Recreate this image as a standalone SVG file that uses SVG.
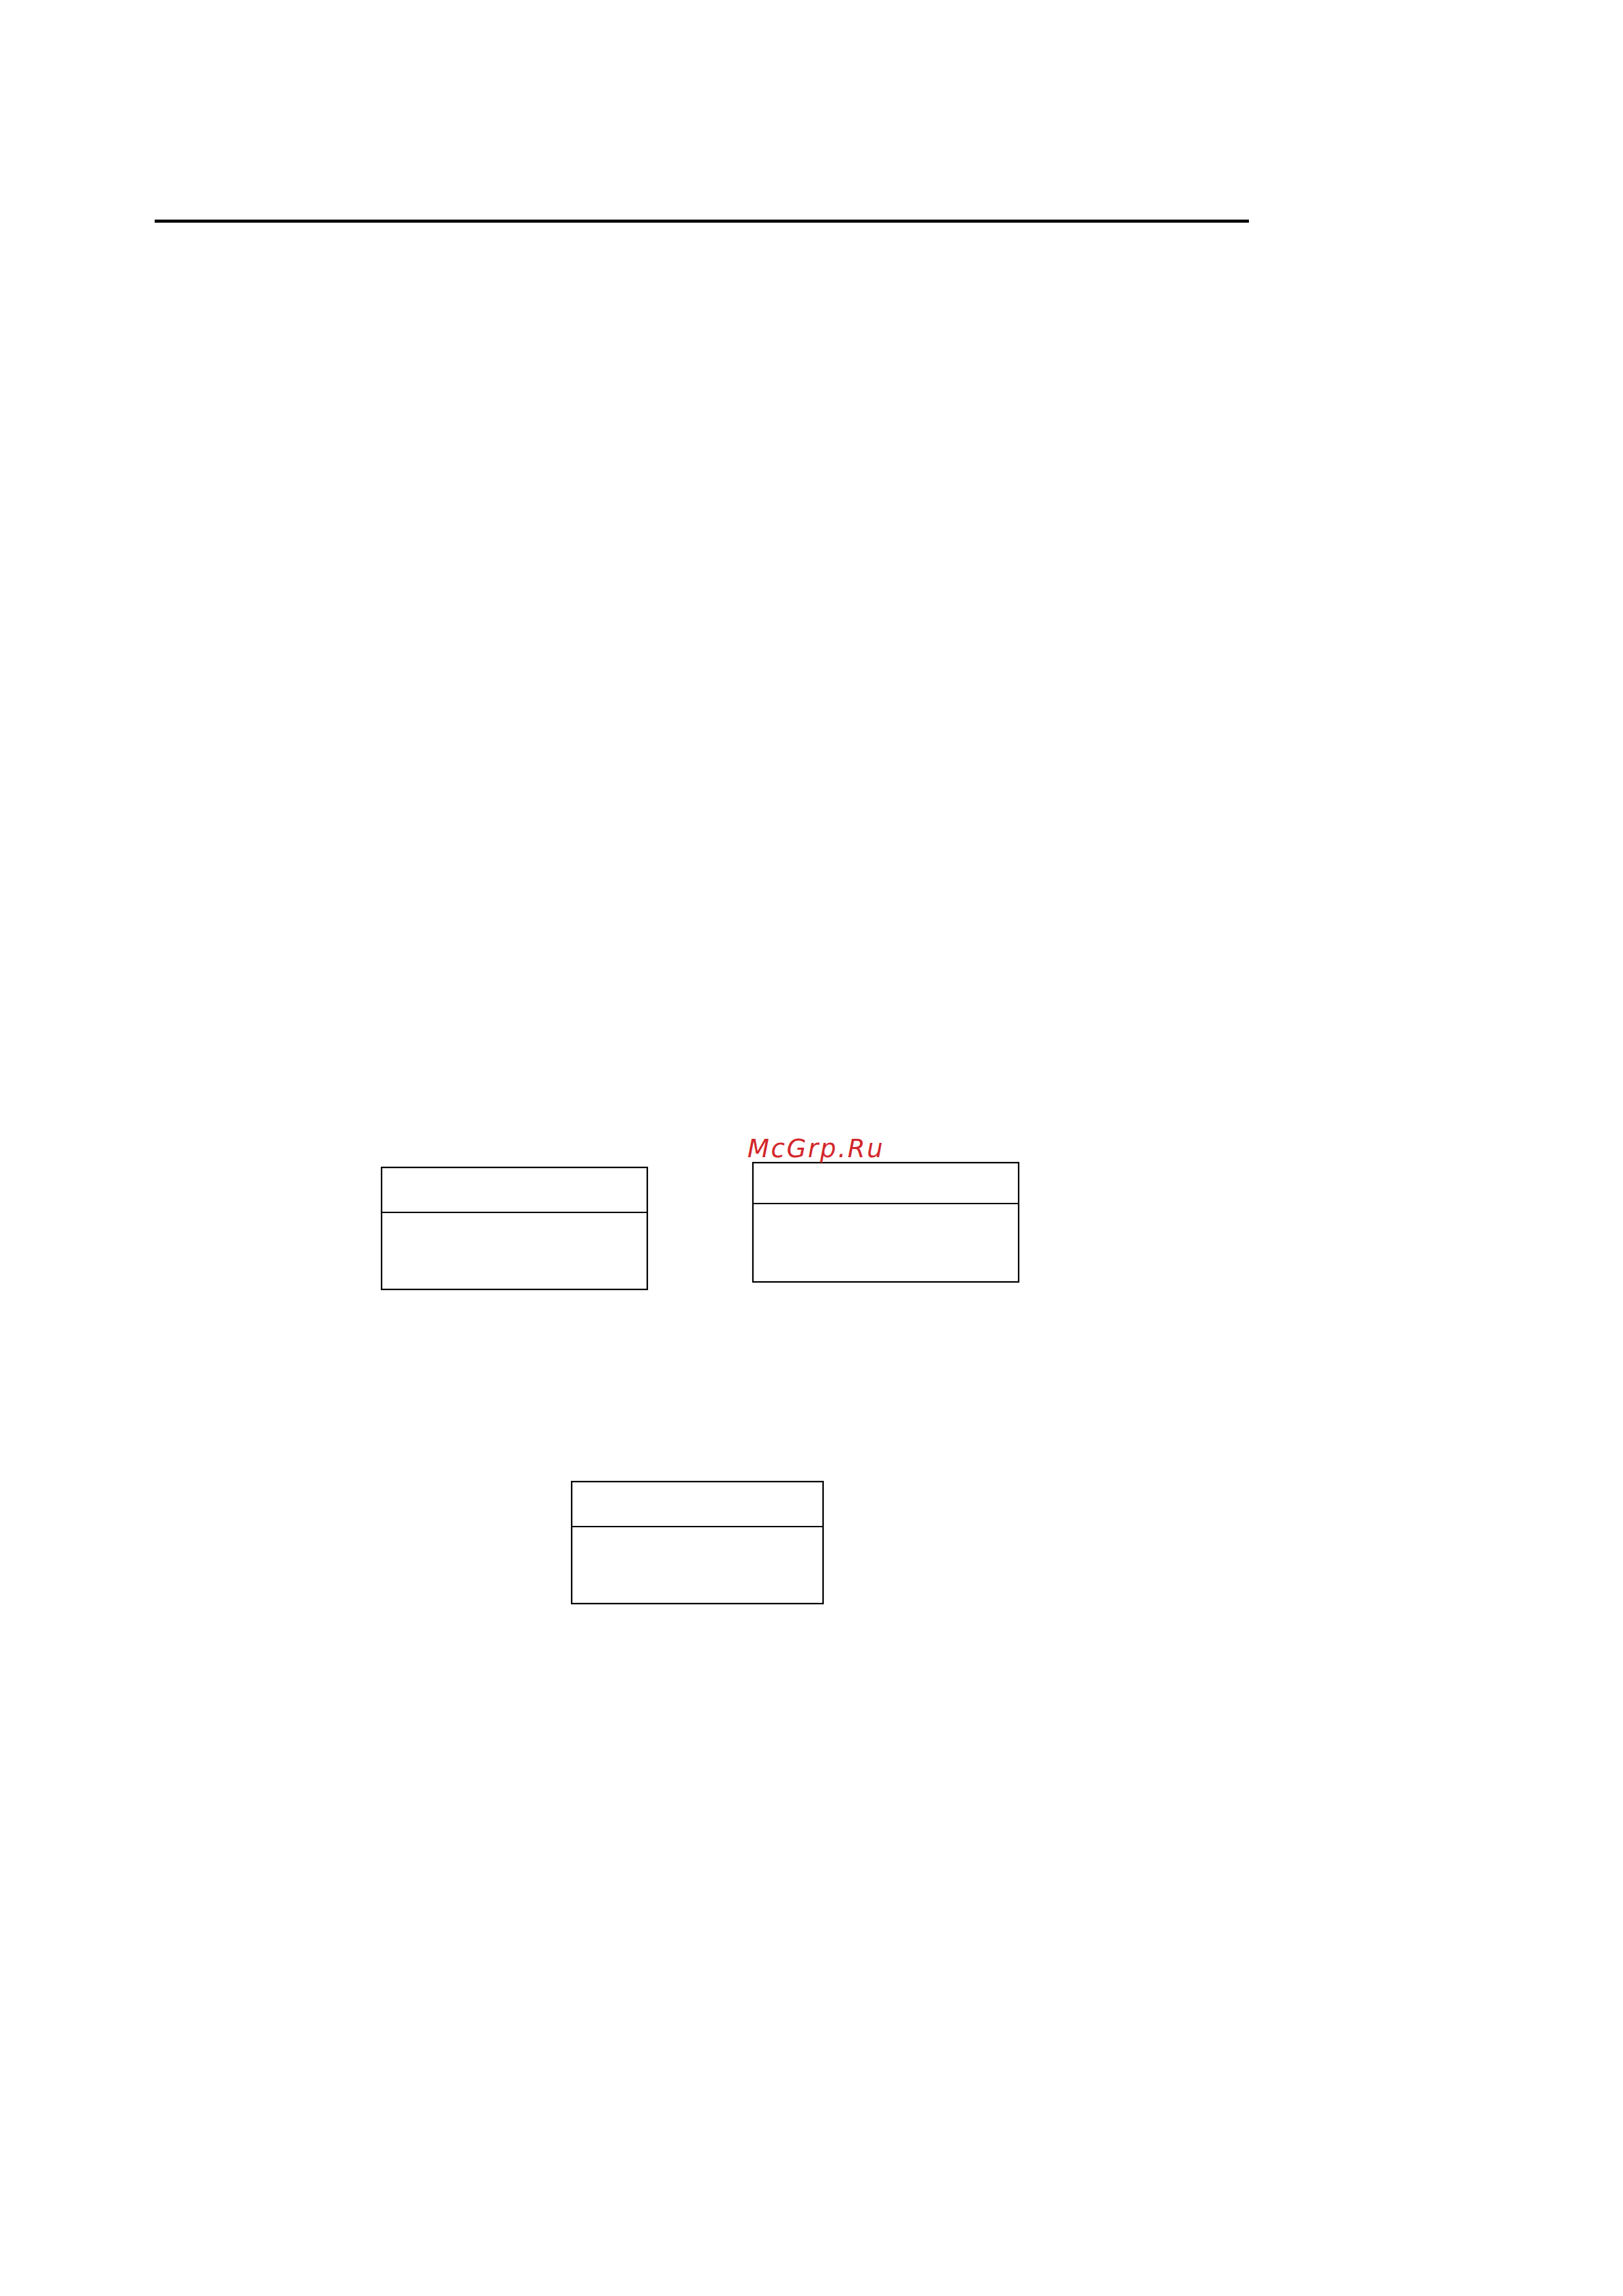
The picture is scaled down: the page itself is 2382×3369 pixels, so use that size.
<svg xmlns="http://www.w3.org/2000/svg" width="2382" height="3369" viewBox="0 0 2382 3369">
<style>
.box{fill:none;stroke:#000;stroke-width:2.2}
.rule{stroke:#000;stroke-width:4.6}
.wm{font-family:"DejaVu Sans",sans-serif;font-style:oblique;font-size:37px;letter-spacing:2.6px;fill:#d3262b}
</style>
<rect width="2382" height="3369" fill="#fff"/>
<line id="top-rule" class="rule" x1="227" y1="324.5" x2="1833" y2="324.5"/>
<g id="node-1">
<rect class="box" x="560" y="1713" width="390" height="179"/>
<line class="box" x1="560" y1="1779" x2="950" y2="1779"/>
</g>
<g id="node-2">
<rect class="box" x="1105" y="1706" width="390" height="175"/>
<line class="box" x1="1105" y1="1766" x2="1495" y2="1766"/>
</g>
<g id="node-3">
<rect class="box" x="839" y="2174" width="369" height="179"/>
<line class="box" x1="839" y1="2240" x2="1208" y2="2240"/>
</g>
<g id="connectors"></g>
<text id="watermark" class="wm" x="1097" y="1698">McGrp.Ru</text>
</svg>
